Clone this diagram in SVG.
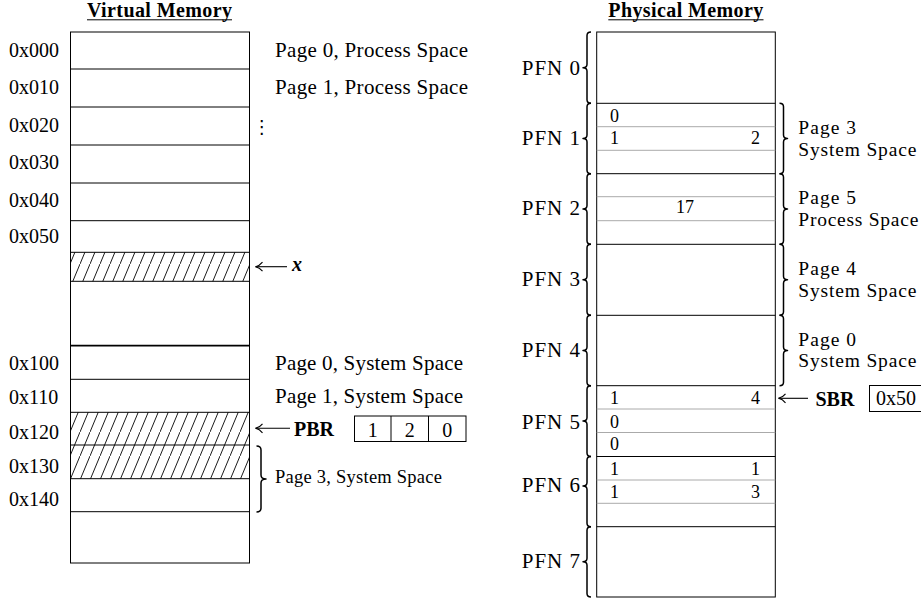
<svg xmlns="http://www.w3.org/2000/svg" width="921" height="599" viewBox="0 0 921 599">
<defs>
<style>
text{font-family:"Liberation Serif","Times New Roman",serif;font-size:20px;fill:#000}
.w{font-size:21px}
.p{font-size:19.5px}
.b{font-weight:bold}
.sm{font-size:18.5px}
.v{font-size:18px}
.c{text-anchor:middle}
.e{text-anchor:end}
.ln{stroke:#000;stroke-width:1;fill:none}
.th{stroke:#000;stroke-width:1.7;fill:none}
.gr{stroke:#a0a0a0;stroke-width:0.9;fill:none}
.br{stroke:#000;stroke-width:1.5;fill:none;stroke-linejoin:round}
.box{fill:#fff;stroke:#000;stroke-width:1}
.ar{stroke:#000;stroke-width:1.1;fill:none}
</style>
<pattern id="hatch" patternUnits="userSpaceOnUse" width="10" height="24">
<path d="M-1,26.4 L11,-2.4" stroke="#000" stroke-width="0.9"/>
</pattern>
<marker id="ah" markerUnits="userSpaceOnUse" markerWidth="12" markerHeight="12" refX="0" refY="0" viewBox="-9 -6 12 12" orient="auto" overflow="visible">
<path d="M-7,-4.5 C-5,-2 -2.5,-0.5 0,0 C-2.5,0.5 -5,2 -7,4.5" fill="none" stroke="#000" stroke-width="1.1"/>
</marker>
</defs>
<rect width="921" height="599" fill="#fff"/>

<g id="headings">
<text class="b" x="87" y="17.3" font-size="18.5" textLength="145" lengthAdjust="spacing">Virtual Memory</text>
<line class="ln" x1="87" y1="19.8" x2="232" y2="19.8"/>
<text class="b" x="608.3" y="17.3" font-size="18.5" textLength="155" lengthAdjust="spacing">Physical Memory</text>
<line class="ln" x1="608.3" y1="19.8" x2="763.5" y2="19.8"/>
</g>

<g id="virtual-memory">
<rect x="70.5" y="32" width="179" height="531" class="box"/>
<rect x="70.5" y="252.3" width="179" height="29" fill="url(#hatch)"/>
<rect x="70.5" y="412.3" width="179" height="66.4" fill="url(#hatch)"/>
<path class="ln" d="M70.5,69H249.5M70.5,107H249.5M70.5,145H249.5M70.5,183H249.5M70.5,220.7H249.5M70.5,252.3H249.5M70.5,281.3H249.5M70.5,379.3H249.5M70.5,412.3H249.5M70.5,445H249.5M70.5,478.7H249.5M70.5,511.7H249.5"/>
<path class="th" d="M70.5,345.7H249.5"/>
</g>

<g id="virtual-addresses">
<text x="9" y="56.7">0x000</text>
<text x="9" y="94.3">0x010</text>
<text x="9" y="132.3">0x020</text>
<text x="9" y="169.3">0x030</text>
<text x="9" y="207">0x040</text>
<text x="9" y="243.3">0x050</text>
<text x="9" y="370">0x100</text>
<text x="9" y="403.5">0x110</text>
<text x="9" y="439">0x120</text>
<text x="9" y="472.7">0x130</text>
<text x="9" y="506">0x140</text>
</g>

<g id="virtual-page-labels">
<text class="w" x="275" y="56.7" textLength="193" lengthAdjust="spacing">Page 0, Process Space</text>
<text class="w" x="275" y="94.3" textLength="193" lengthAdjust="spacing">Page 1, Process Space</text>
<text x="261.7" y="133" class="c" style="font-family:'DejaVu Sans',sans-serif;font-size:18px">⋮</text>
<text class="w" x="275" y="369.5" textLength="188" lengthAdjust="spacing">Page 0, System Space</text>
<text class="w" x="275" y="403.3" textLength="188" lengthAdjust="spacing">Page 1, System Space</text>
<text class="sm" x="275" y="482.5" textLength="167" lengthAdjust="spacing">Page 3, System Space</text>
<path class="br" d="M256.5,446 Q261,446 261,450 L261,475 Q261,479 266,479 Q261,479 261,483 L261,508 Q261,512 256.5,512"/>
</g>

<g id="x-label">
<text x="292" y="270.7" font-weight="bold" font-style="italic" font-size="21">x</text>
</g>

<g id="pbr">
<text class="b" x="294" y="435.7" font-size="22">PBR</text>
<rect class="box" x="354.5" y="416" width="111.5" height="25.5"/>
<path class="ln" d="M391,416V441.5M428.5,416V441.5"/>
<text class="c" x="372.7" y="436.5">1</text>
<text class="c" x="409.7" y="436.5">2</text>
<text class="c" x="447.2" y="436.5">0</text>
</g>

<g id="physical-memory">
<rect x="596.7" y="32" width="178.6" height="565" class="box"/>
<path class="gr" d="M596.7,126.7H775.3M596.7,150.3H775.3M596.7,196.7H775.3M596.7,220.7H775.3M596.7,409H775.3M596.7,432.5H775.3M596.7,480H775.3M596.7,503.3H775.3"/>
<path class="ln" d="M596.7,103.3H775.3M596.7,173.7H775.3M596.7,244.3H775.3M596.7,315.3H775.3M596.7,385.7H775.3M596.7,456.5H775.3M596.7,526.7H775.3"/>
</g>

<g id="pfn0">
<text class="w e" x="580" y="75" textLength="58.3" lengthAdjust="spacing">PFN 0</text>
<path class="br" d="M591,32 Q587,32 587,35.5 L587,64.15 Q587,67.65 583,67.65 Q587,67.65 587,71.15 L587,99.8 Q587,103.3 591,103.3"/>
</g>
<g id="pfn1">
<text class="w e" x="580" y="145" textLength="58.3" lengthAdjust="spacing">PFN 1</text>
<path class="br" d="M591,103.3 Q587,103.3 587,106.8 L587,135 Q587,138.5 583,138.5 Q587,138.5 587,142 L587,170.2 Q587,173.7 591,173.7"/>
<text class="v" x="610" y="121.7">0</text>
<text class="v" x="610" y="144">1</text>
<text class="v e" x="760" y="144">2</text>
<path class="br" d="M779.5,103.3 Q783.5,103.3 783.5,106.8 L783.5,135 Q783.5,138.5 787.5,138.5 Q783.5,138.5 783.5,142 L783.5,170.2 Q783.5,173.7 779.5,173.7"/>
<text class="p" x="798.3" y="134"><tspan x="798.3" y="134" textLength="57.7" lengthAdjust="spacing">Page 3</tspan><tspan x="798.3" y="155.7" textLength="118" lengthAdjust="spacing">System Space</tspan></text>
</g>
<g id="pfn2">
<text class="w e" x="580" y="215" textLength="58.3" lengthAdjust="spacing">PFN 2</text>
<path class="br" d="M591,173.7 Q587,173.7 587,177.2 L587,205.5 Q587,209 583,209 Q587,209 587,212.5 L587,240.8 Q587,244.3 591,244.3"/>
<text class="v c" x="685" y="213.3">17</text>
<path class="br" d="M779.5,173.7 Q783.5,173.7 783.5,177.2 L783.5,205.5 Q783.5,209 787.5,209 Q783.5,209 783.5,212.5 L783.5,240.8 Q783.5,244.3 779.5,244.3"/>
<text class="p" x="798.3" y="204"><tspan x="798.3" y="204" textLength="57.7" lengthAdjust="spacing">Page 5</tspan><tspan x="798.3" y="225.7" textLength="120" lengthAdjust="spacing">Process Space</tspan></text>
</g>
<g id="pfn3">
<text class="w e" x="580" y="286" textLength="58.3" lengthAdjust="spacing">PFN 3</text>
<path class="br" d="M591,244.3 Q587,244.3 587,247.8 L587,276.3 Q587,279.8 583,279.8 Q587,279.8 587,283.3 L587,311.8 Q587,315.3 591,315.3"/>
<path class="br" d="M779.5,244.3 Q783.5,244.3 783.5,247.8 L783.5,276.3 Q783.5,279.8 787.5,279.8 Q783.5,279.8 783.5,283.3 L783.5,311.8 Q783.5,315.3 779.5,315.3"/>
<text class="p" x="798.3" y="275.3"><tspan x="798.3" y="275.3" textLength="57.7" lengthAdjust="spacing">Page 4</tspan><tspan x="798.3" y="297" textLength="118" lengthAdjust="spacing">System Space</tspan></text>
</g>
<g id="pfn4">
<text class="w e" x="580" y="357" textLength="58.3" lengthAdjust="spacing">PFN 4</text>
<path class="br" d="M591,315.3 Q587,315.3 587,318.8 L587,347 Q587,350.5 583,350.5 Q587,350.5 587,354 L587,382.2 Q587,385.7 591,385.7"/>
<path class="br" d="M779.5,315.3 Q783.5,315.3 783.5,318.8 L783.5,347 Q783.5,350.5 787.5,350.5 Q783.5,350.5 783.5,354 L783.5,382.2 Q783.5,385.7 779.5,385.7"/>
<text class="p" x="798.3" y="345.7"><tspan x="798.3" y="345.7" textLength="57.7" lengthAdjust="spacing">Page 0</tspan><tspan x="798.3" y="367.3" textLength="118" lengthAdjust="spacing">System Space</tspan></text>
</g>
<g id="pfn5">
<text class="w e" x="580" y="428.5" textLength="58.3" lengthAdjust="spacing">PFN 5</text>
<path class="br" d="M591,385.7 Q587,385.7 587,389.2 L587,417.6 Q587,421.1 583,421.1 Q587,421.1 587,424.6 L587,453 Q587,456.5 591,456.5"/>
<text class="v" x="610" y="404">1</text>
<text class="v e" x="760" y="404">4</text>
<text class="v" x="610" y="427.7">0</text>
<text class="v" x="610" y="450">0</text>
</g>
<g id="pfn6">
<text class="w e" x="580" y="492.3" textLength="58.3" lengthAdjust="spacing">PFN 6</text>
<path class="br" d="M591,456.5 Q587,456.5 587,460 L587,482.5 Q587,486 583,486 Q587,486 587,489.5 L587,523.2 Q587,526.7 591,526.7"/>
<text class="v" x="610" y="475">1</text>
<text class="v e" x="760" y="475">1</text>
<text class="v" x="610" y="498.3">1</text>
<text class="v e" x="760" y="498.3">3</text>
</g>
<g id="pfn7">
<text class="w e" x="580" y="568.3" textLength="58.3" lengthAdjust="spacing">PFN 7</text>
<path class="br" d="M591,526.7 Q587,526.7 587,530.2 L587,558.35 Q587,561.85 583,561.85 Q587,561.85 587,565.35 L587,593.5 Q587,597 591,597"/>
</g>

<g id="sbr">
<text class="b" x="815.5" y="405.7" font-size="22">SBR</text>
<rect class="box" x="869.5" y="385.5" width="60" height="26"/>
<text x="876" y="405">0x50</text>
</g>

<g id="connectors">
<line class="ar" x1="287" y1="266.7" x2="255.5" y2="266.7" marker-end="url(#ah)"/>
<line class="ar" x1="290" y1="428.3" x2="255.5" y2="428.3" marker-end="url(#ah)"/>
<line class="ar" x1="808" y1="398.3" x2="778.5" y2="398.3" marker-end="url(#ah)"/>
</g>
</svg>
